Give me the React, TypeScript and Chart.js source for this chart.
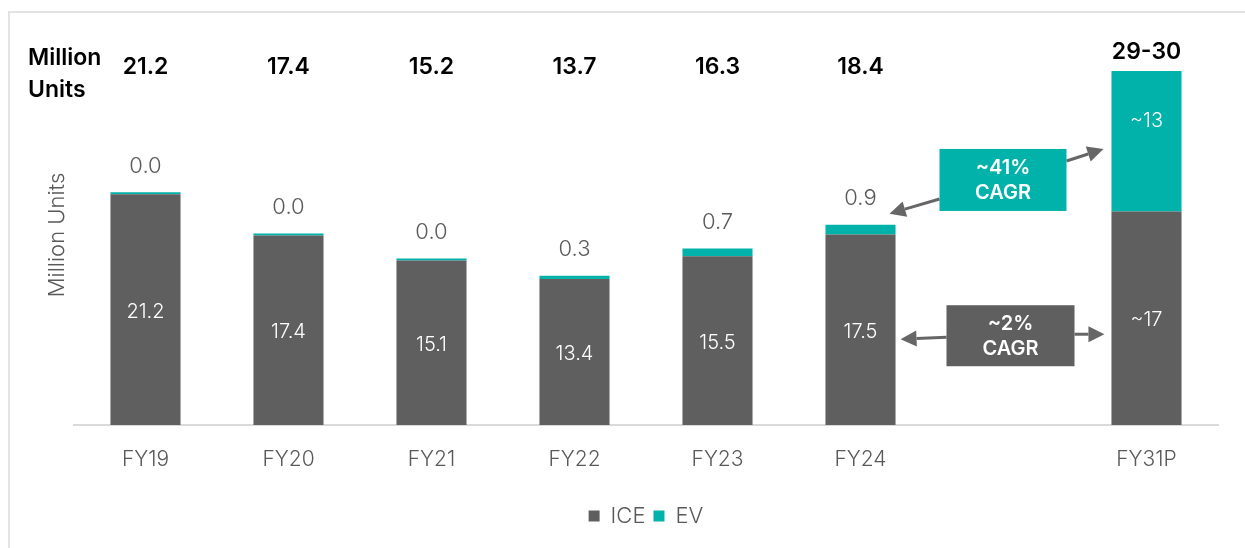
import React, { useEffect, useRef } from "react";
import { Chart, registerables } from "chart.js";

Chart.register(...registerables);

const CATEGORIES = ["FY19", "FY20", "FY21", "FY22", "FY23", "FY24", "", "FY31P"];
// plotted bar heights (FY31P is drawn as in the source)
const ICE_VALUES = [21.2, 17.4, 15.1, 13.4, 15.5, 17.5, null, 19.6];
const EV_VALUES = [0.02, 0.02, 0.03, 0.3, 0.7, 0.9, null, 12.9];
const ICE_LABELS = ["21.2", "17.4", "15.1", "13.4", "15.5", "17.5", "", "~17"];
const EV_LABELS = ["0.0", "0.0", "0.0", "0.3", "0.7", "0.9", "", "~13"];
const TOTAL_LABELS = ["21.2", "17.4", "15.2", "13.7", "16.3", "18.4", "", "29-30"];
const EV_CAGR = ["~41%", "CAGR"];
const ICE_CAGR = ["~2%", "CAGR"];

const GRAY = "#5f5f5f";
const TEAL = "#00b2a9";
const TEXT_GRAY = "#595959";
const FONT = "Inter, 'Noto Sans', sans-serif";
const CANVAS_H = 548;
const PAD_BOTTOM = 11;
const BASELINE_Y = 425;

function arrow(ctx: CanvasRenderingContext2D, x1: number, y1: number, x2: number, y2: number, color: string) {
  const ang = Math.atan2(y2 - y1, x2 - x1);
  const hl = 16;
  const hw = 8;
  const bx = x2 - hl * Math.cos(ang);
  const by = y2 - hl * Math.sin(ang);
  ctx.save();
  ctx.strokeStyle = color;
  ctx.fillStyle = color;
  ctx.lineWidth = 3;
  ctx.beginPath();
  ctx.moveTo(x1, y1);
  ctx.lineTo(bx, by);
  ctx.stroke();
  ctx.beginPath();
  ctx.moveTo(x2, y2);
  ctx.lineTo(bx + hw * Math.sin(ang), by - hw * Math.cos(ang));
  ctx.lineTo(bx - hw * Math.sin(ang), by + hw * Math.cos(ang));
  ctx.closePath();
  ctx.fill();
  ctx.restore();
}

const annotations = {
  id: "annotations",
  afterDatasetsDraw(chart: any) {
    const ctx: CanvasRenderingContext2D = chart.ctx;
    const x = chart.scales.x;
    const y = chart.scales.y;
    const iceMeta = chart.getDatasetMeta(0);
    const evMeta = chart.getDatasetMeta(1);
    ctx.save();
    ctx.textAlign = "center";
    ctx.textBaseline = "middle";

    // header
    ctx.fillStyle = "#000";
    ctx.font = `600 23px ${FONT}`;
    ctx.textAlign = "left";
    ctx.fillText("Million", 28, 58);
    ctx.fillText("Units", 28, 90);
    ctx.textAlign = "center";
    TOTAL_LABELS.forEach((t, i) => {
      if (!t) return;
      const yy = i === CATEGORIES.length - 1 ? 52 : 67;
      ctx.fillText(t, x.getPixelForValue(i), yy);
    });

    // y-axis title
    ctx.save();
    ctx.translate(57, 235);
    ctx.rotate(-Math.PI / 2);
    ctx.fillStyle = TEXT_GRAY;
    ctx.font = `300 22px ${FONT}`;
    ctx.fillText("Million Units", 0, 0);
    ctx.restore();

    // ICE labels inside
    iceMeta.data.forEach((bar: any, i: number) => {
      if (ICE_VALUES[i] == null) return;
      ctx.fillStyle = "#fff";
      ctx.font = `300 20px ${FONT}`;
      ctx.fillText(ICE_LABELS[i], bar.x, (bar.y + bar.base) / 2 + 2);
    });
    // EV labels
    evMeta.data.forEach((bar: any, i: number) => {
      if (EV_VALUES[i] == null) return;
      if (i === CATEGORIES.length - 1) {
        ctx.fillStyle = "#fff";
        ctx.font = `300 20px ${FONT}`;
        ctx.fillText(EV_LABELS[i], bar.x, bar.y + 50);
      } else {
        ctx.fillStyle = TEXT_GRAY;
        ctx.font = `300 22px ${FONT}`;
        ctx.fillText(EV_LABELS[i], bar.x, bar.y - 26);
      }
    });

    // CAGR boxes
    const cx = x.getPixelForValue(6);
    const fy24 = evMeta.data[5];
    const fy31 = evMeta.data[7];
    const halfW = fy24.width / 2;

    // EV CAGR
    const tb = { l: cx - 64, t: y.getPixelForValue(25.35), w: 127, h: 62 };
    arrow(ctx, tb.l, tb.t + 50, fy24.x + halfW - 6, fy24.y - 11, "#666");
    arrow(ctx, tb.l + tb.w, tb.t + 12, fy31.x - halfW - 8, fy31.y + 78, "#666");
    ctx.fillStyle = TEAL;
    ctx.fillRect(tb.l, tb.t, tb.w, tb.h);
    ctx.fillStyle = "#fff";
    ctx.font = `600 20px ${FONT}`;
    ctx.fillText(EV_CAGR[0], tb.l + tb.w / 2, tb.t + 19);
    ctx.fillText(EV_CAGR[1], tb.l + tb.w / 2, tb.t + 44);

    // ICE CAGR
    const gb = { l: cx - 57, t: y.getPixelForValue(11.0), w: 128, h: 61 };
    const iceFy24 = iceMeta.data[5];
    const iceFy31 = iceMeta.data[7];
    arrow(ctx, gb.l, gb.t + 32, iceFy24.x + halfW + 5, gb.t + 34, "#666");
    arrow(ctx, gb.l + gb.w, gb.t + 29, iceFy31.x - halfW - 7, gb.t + 29, "#666");
    ctx.fillStyle = GRAY;
    ctx.fillRect(gb.l, gb.t, gb.w, gb.h);
    ctx.fillStyle = "#fff";
    ctx.fillText(ICE_CAGR[0], gb.l + gb.w / 2, gb.t + 19);
    ctx.fillText(ICE_CAGR[1], gb.l + gb.w / 2, gb.t + 44);

    ctx.restore();
  },
};

export default function App() {
  const ref = useRef<HTMLCanvasElement>(null);
  useEffect(() => {
    if (!ref.current) return;
    const chart = new Chart(ref.current, {
      type: "bar",
      data: {
        labels: CATEGORIES,
        datasets: [
          { label: "ICE", data: ICE_VALUES as any, backgroundColor: GRAY, barPercentage: 0.49, categoryPercentage: 1 },
          { label: "EV", data: EV_VALUES as any, backgroundColor: TEAL, barPercentage: 0.49, categoryPercentage: 1, minBarLength: 2 },
        ],
      },
      options: {
        animation: false,
        responsive: false,
        maintainAspectRatio: false,
        layout: { padding: { top: 33, left: 74, right: 27, bottom: PAD_BOTTOM } },
        plugins: {
          tooltip: { enabled: false },
          legend: {
            position: "bottom",
            labels: {
              boxWidth: 11,
              boxHeight: 11,
              color: TEXT_GRAY,
              font: { family: FONT, size: 22, weight: 300 as any },
              padding: 8,
            },
          },
        },
        scales: {
          x: {
            stacked: true,
            grid: { display: false, drawTicks: false },
            border: { display: true, color: "#d9d9d9", width: 2 },
            ticks: { color: TEXT_GRAY, font: { family: FONT, size: 21, weight: 300 as any }, padding: 22 },
            afterFit: (scale: any) => {
              const lh = scale.chart.legend ? scale.chart.legend.height : 0;
              scale.height = CANVAS_H - PAD_BOTTOM - lh - BASELINE_Y;
            },
          },
          y: {
            stacked: true,
            display: false,
            min: 0,
            max: 36,
          },
        },
      },
      plugins: [annotations],
    });
    return () => chart.destroy();
  }, []);
  return (
    <div style={{ position: "fixed", left: 0, top: 0, width: 1245, height: 548, background: "#fff" }}>
      <div style={{ position: "absolute", left: 8, top: 11, right: -10, bottom: -10, borderLeft: "2px solid #e3e3e3", borderTop: "2px solid #e3e3e3" }} />
      <canvas ref={ref} width={1245} height={548} style={{ position: "absolute", left: 0, top: 0 }} />
    </div>
  );
}
